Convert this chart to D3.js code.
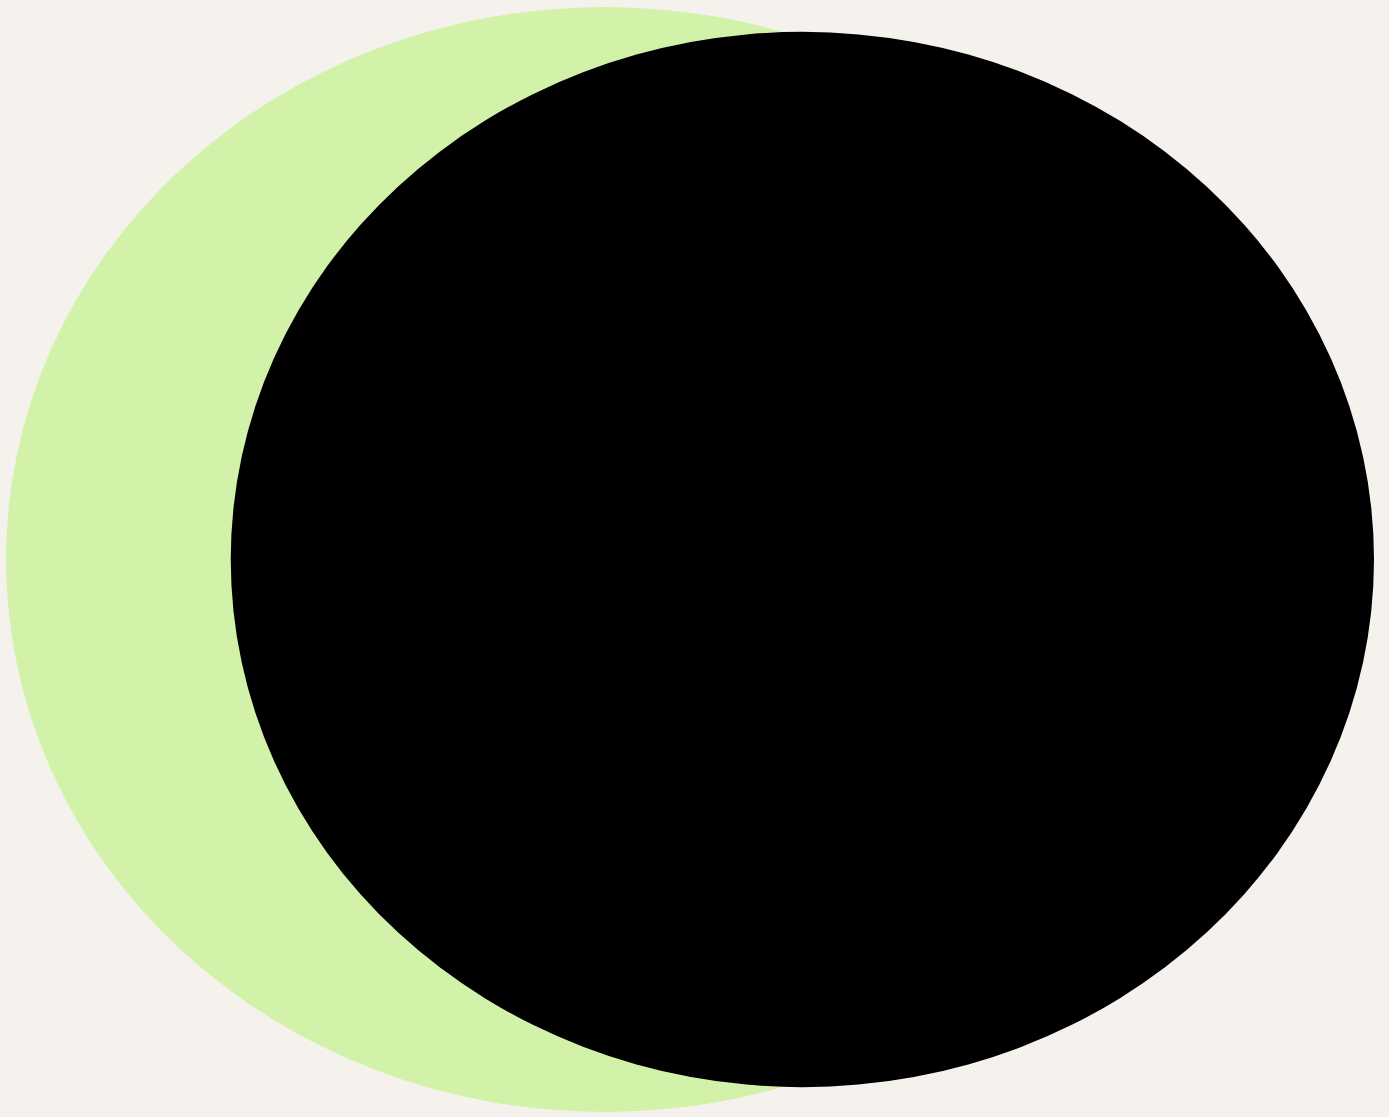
<!DOCTYPE html>
<html>
<head>
<meta charset="utf-8">
<script src="https://cdn.jsdelivr.net/npm/d3@7"></script>
<style>
    html, body { margin: 0; padding: 0; background: #f5f2ee; }
    #chart { width: 1389px; height: 1117px; }
</style>
</head>
<body>
<div id="chart"></div>
<script>
// two overlapping area circles
const categories = ["total", "part"];
const values = [100, 91.2];
const colors = ["#d3f2a9", "#000000"];

let margin = {top: 7, right: 15, bottom: 5, left: 6};
let width = 1389, height = 1117;
let innerH = height - margin.top - margin.bottom;

// the picture is stretched horizontally
let stretch = 1.0834;

let svg = d3.select("#chart").append("svg")
    .attr("width", width)
    .attr("height", height);

svg.append("rect")
    .attr("width", width)
    .attr("height", height)
    .attr("fill", "#f5f2ee");

let rScale = d3.scaleSqrt()
    .domain([0, d3.max(values)])
    .range([0, innerH / 2]);

let cy = margin.top + innerH / 2;

let data = categories.map((c, i) => ({name: c, value: values[i], color: colors[i]}));

// first circle hugs the left side, second hugs the right side
let cx = (d, i) => i === 0
    ? margin.left + rScale(d.value) * stretch
    : width - margin.right - rScale(d.value) * stretch;

svg.selectAll("ellipse")
    .data(data)
    .join("ellipse")
    .attr("cx", cx)
    .attr("cy", cy)
    .attr("rx", d => rScale(d.value) * stretch)
    .attr("ry", d => rScale(d.value))
    .attr("fill", d => d.color);
</script>
</body>
</html>
